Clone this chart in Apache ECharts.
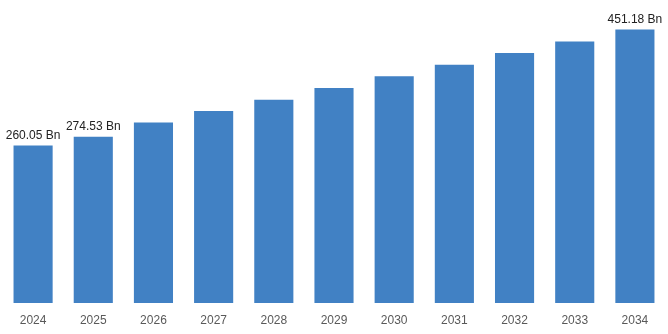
<!DOCTYPE html>
<html>
<head>
<meta charset="utf-8">
<script src="https://cdn.jsdelivr.net/npm/echarts@6/dist/echarts.min.js"></script>
<style>
  html, body { margin: 0; padding: 0; background: #ffffff; }
  #chart { width: 668px; height: 334px; }
</style>
</head>
<body>
<div id="chart"></div>
<script>
// Market size by year (USD billion)
const years = ['2024', '2025', '2026', '2027', '2028', '2029', '2030', '2031', '2032', '2033', '2034'];
const values = [260.05, 274.53, 297.7, 316.8, 335.6, 354.7, 374.0, 393.2, 412.4, 431.6, 451.18];
// Only these years carry a value label
const labelledYears = ['2024', '2025', '2034'];

const chart = echarts.init(document.getElementById('chart'), null, { renderer: 'canvas' });

chart.setOption({
  animation: false,
  grid: { left: 3, right: 3, top: 0, bottom: 31, containLabel: false },
  xAxis: {
    type: 'category',
    data: years,
    axisLine: { show: false },
    axisTick: { show: false },
    axisLabel: {
      color: '#595959',
      fontSize: 12,
      fontFamily: 'Liberation Sans, Arial, sans-serif',
      margin: 12
    }
  },
  yAxis: {
    type: 'value',
    min: 0,
    max: 500,
    show: false,
    splitLine: { show: false }
  },
  series: [{
    type: 'bar',
    data: values.map((v, i) => ({
      value: v,
      label: { show: labelledYears.includes(years[i]) }
    })),
    barWidth: '65%',
    itemStyle: { color: '#4181C4' },
    label: {
      position: 'top',
      distance: 4,
      color: '#222222',
      fontSize: 12,
      fontFamily: 'Liberation Sans, Arial, sans-serif',
      formatter: p => p.value.toFixed(2) + ' Bn'
    }
  }]
});
</script>
</body>
</html>
